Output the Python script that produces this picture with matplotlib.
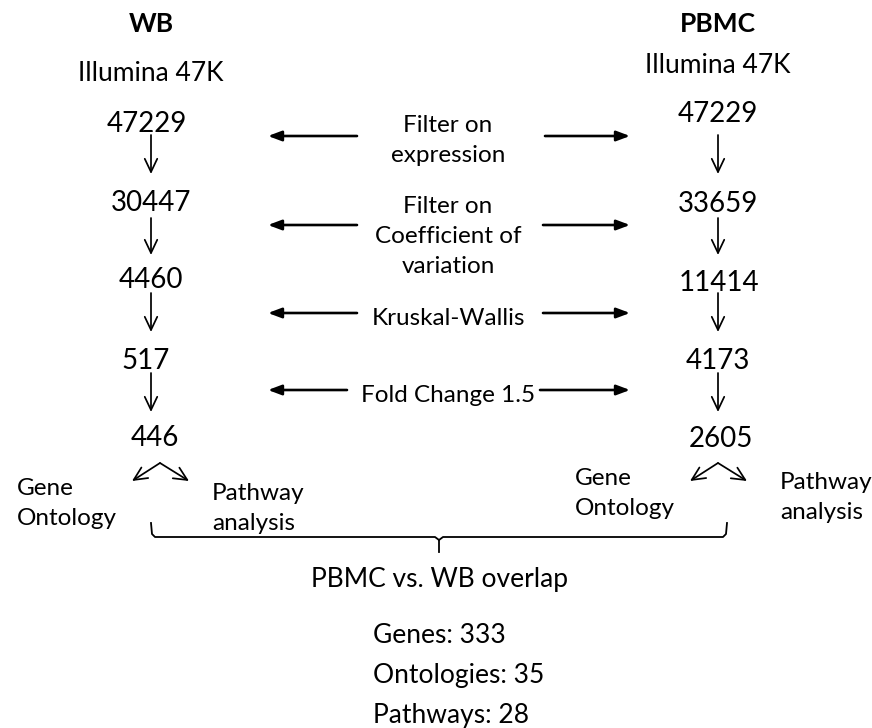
"""
Flow diagram: WB vs PBMC probe filtering steps and overlap.
"""
import matplotlib
matplotlib.use("Agg")
import matplotlib.pyplot as plt

plt.rcParams['font.family'] = ['Lato', 'DejaVu Sans']

# data
arms = ["WB", "PBMC"]
platform = "Illumina 47K"
wb_counts = [47229, 30447, 4460, 517, 446]
pbmc_counts = [47229, 33659, 11414, 4173, 2605]
filter_steps = ["Filter on\nexpression", "Filter on\nCoefficient of\nvariation",
                "Kruskal-Wallis", "Fold Change 1.5"]
analyses = ["Gene\nOntology", "Pathway\nanalysis"]
overlap_title = "PBMC vs. WB overlap"
overlap_items = ["Genes", "Ontologies", "Pathways"]
overlap_counts = [333, 35, 28]

# layout (pixel coords, y grows downward, y = text baseline)
W, H = 872, 728
col_x = {"WB": 151, "PBMC": 718}
title_base = {"WB": 32, "PBMC": 32}
platform_base = {"WB": 81, "PBMC": 73}
count_base = {"WB": [132, 211, 288, 369, 446], "PBMC": [122, 212, 291, 369, 447]}
count_dx = {"WB": [-4, 0, 0, -5, 4], "PBMC": [0, 0, 1, 0, 3]}
arrow_span = [(135, 174), (218, 255), (293, 332), (373, 412)]
split_apex = {"WB": (160, 463), "PBMC": (718, 463)}
step_base = [132, 213, 325, 402]
step_arrow_y = [136, 225, 313, 390]
step_inner = [(357, 545), (357, 543), (357, 543), (347, 540)]
analysis_pos = {"WB": [(17, 495), (212, 500)], "PBMC": [(575, 485), (780, 489)]}
LINE = 30

fig = plt.figure(figsize=(W / 100, H / 100), dpi=100)
ax = fig.add_axes([0, 0, 1, 1])
ax.set_xlim(0, W)
ax.set_ylim(H, 0)
ax.axis("off")

open_head = dict(arrowstyle="->,head_length=0.95,head_width=0.45",
                 lw=1.25, color="black", shrinkA=0, shrinkB=0)
solid_head = dict(arrowstyle="-|>,head_length=0.8,head_width=0.3",
                  lw=1.9, color="black", shrinkA=0, shrinkB=0)


def lines(x, y, text, size, ha="left"):
    for k, line in enumerate(text.split("\n")):
        ax.text(x, y + k * LINE, line, ha=ha, va="baseline", fontsize=size)


for arm, counts in zip(arms, [wb_counts, pbmc_counts]):
    x = col_x[arm]
    ax.text(x, title_base[arm], arm, ha="center", va="baseline",
            fontsize=19, fontweight="bold")
    ax.text(x, platform_base[arm], platform, ha="center", va="baseline", fontsize=19)
    for i, c in enumerate(counts):
        ax.text(x + count_dx[arm][i], count_base[arm][i], str(c),
                ha="center", va="baseline", fontsize=20)
    for y0, y1 in arrow_span:
        ax.annotate("", xy=(x, y1), xytext=(x, y0), arrowprops=open_head)
    # split arrows to analyses
    sx, sy = split_apex[arm]
    ax.annotate("", xy=(sx - 28, sy + 18), xytext=(sx, sy), arrowprops=open_head)
    ax.annotate("", xy=(sx + 29, sy + 18), xytext=(sx, sy), arrowprops=open_head)
    for (lx, ly), label in zip(analysis_pos[arm], analyses):
        lines(lx, ly, label, 17.5)

# filter steps with arrows both ways
for i, label in enumerate(filter_steps):
    lines(448, step_base[i], label, 17.5, ha="center")
    left_in, right_in = step_inner[i]
    y = step_arrow_y[i]
    ax.annotate("", xy=(268, y), xytext=(left_in, y), arrowprops=solid_head)
    ax.annotate("", xy=(630, y), xytext=(right_in, y), arrowprops=solid_head)

# overlap brace
bx0, bx1 = 151, 727
bmid = (bx0 + bx1) / 2
by_top, by = 523, 537
ax.plot([bx0, bx0 + 1, bx0 + 4, bmid - 4, bmid, bmid],
        [by_top, by - 3, by, by, by + 3, by + 15], color="black", lw=1.3)
ax.plot([bx1, bx1 - 1, bx1 - 4, bmid + 4, bmid],
        [by_top, by - 3, by, by, by + 3], color="black", lw=1.3)

ax.text(bmid, 587, overlap_title, ha="center", va="baseline", fontsize=19)
for i, (name, n) in enumerate(zip(overlap_items, overlap_counts)):
    ax.text(373, 643 + 40 * i, f"{name}: {n}", ha="left", va="baseline", fontsize=19)

fig.savefig("out.png", dpi=100, facecolor="white")
